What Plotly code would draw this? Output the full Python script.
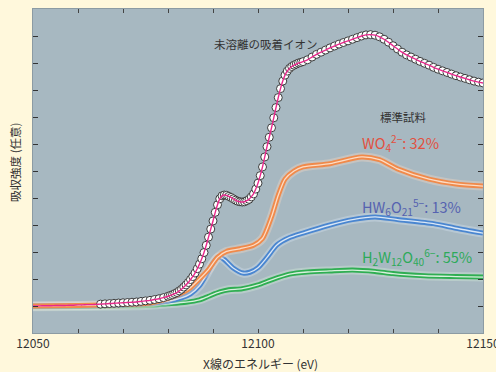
import plotly.graph_objects as go

# ---------------- data ----------------
sample_x = (
    list(range(12050, 12080))
    + [12080 + 0.5 * i for i in range(0, 61)]
    + list(range(12111, 12151))
)
sample_y = [
    # 12050 - 12079 (1 eV)
    0.00, 0.00, 0.01, 0.01, 0.01, 0.02, 0.02, 0.02, 0.03, 0.03,
    0.04, 0.04, 0.05, 0.05, 0.06, 0.07, 0.08, 0.09, 0.10, 0.11,
    0.12, 0.13, 0.14, 0.15, 0.17, 0.19, 0.21, 0.24, 0.27, 0.31,
    # 12080 - 12110 (0.5 eV)
    0.36, 0.39, 0.42, 0.46, 0.50, 0.56, 0.62, 0.70, 0.78, 0.87,
    0.98, 1.09, 1.22, 1.38, 1.55, 1.75, 1.98, 2.25, 2.55, 2.85,
    3.15, 3.47, 3.75, 3.97, 4.08, 4.11, 4.10, 4.06, 4.02, 3.97,
    3.92, 3.88, 3.86, 3.85, 3.86, 3.90, 3.95, 4.04, 4.15, 4.33,
    4.55, 4.83, 5.15, 5.52, 5.90, 6.25, 6.60, 6.97, 7.35, 7.72,
    8.05, 8.33, 8.55, 8.70, 8.80, 8.87, 8.92, 8.96, 9.00, 9.02,
    9.05,
    # 12111 - 12150 (1 eV)
    9.12, 9.22, 9.32, 9.40, 9.48, 9.56, 9.63, 9.70, 9.76,
    9.82, 9.88, 9.94, 10.00, 10.04, 10.05, 10.03, 9.97, 9.88, 9.77,
    9.64, 9.52, 9.40, 9.30, 9.22, 9.14, 9.06, 8.99, 8.92, 8.84,
    8.77, 8.71, 8.65, 8.59, 8.53, 8.48, 8.43, 8.38, 8.33, 8.29,
    8.26,
]
marker_start = 12065

wo4_x = [12050, 12060, 12070, 12076, 12080, 12083, 12085, 12087, 12089, 12091,
         12093, 12096, 12099, 12101, 12103, 12104.5, 12106, 12108, 12110, 12116,
         12123, 12127, 12131, 12138, 12144, 12150]
wo4_y = [0.00, 0.02, 0.06, 0.11, 0.28, 0.48, 0.68, 1.00, 1.35, 1.80,
         2.02, 2.12, 2.25, 2.50, 3.30, 4.10, 4.70, 5.00, 5.15, 5.27,
         5.52, 5.42, 5.08, 4.70, 4.52, 4.44]

hw6_x = [12050, 12060, 12070, 12076, 12080, 12083, 12085, 12087, 12088.5, 12090,
         12091.2, 12092.5, 12094.4, 12096.7, 12098.2, 12100, 12102, 12104.2, 12106.8,
         12110, 12116, 12121, 12126, 12131, 12139, 12144, 12150]
hw6_y = [0.00, 0.01, 0.04, 0.09, 0.18, 0.30, 0.45, 0.75, 1.15, 1.60,
         1.82, 1.72, 1.42, 1.22, 1.25, 1.42, 1.80, 2.26, 2.52,
         2.70, 3.00, 3.20, 3.30, 3.20, 3.05, 2.88, 2.70]

h2w12_x = [12050, 12060, 12070, 12076, 12080, 12084, 12087, 12089, 12091.5, 12093.5,
           12096.5, 12100, 12103, 12107, 12111, 12116, 12121, 12126, 12130, 12137,
           12144, 12150]
h2w12_y = [-0.03, -0.02, 0.00, 0.03, 0.08, 0.14, 0.23, 0.36, 0.52, 0.60,
           0.64, 0.78, 0.97, 1.18, 1.26, 1.30, 1.33, 1.28, 1.20, 1.12,
           1.09, 1.07]

x_ticks = [12050, 12100, 12150]
x_tick_labels = ["12050", "12100", "12150"]
y_ticks = list(range(0, 11))

sample_label = "未溶離の吸着イオン"
standard_label = "標準試料"
wo4_label = "WO<sub>4</sub><sup>2−</sup>: 32%"
hw6_label = "HW<sub>6</sub>O<sub>21</sub><sup>5−</sup>: 13%"
h2w12_label = "H<sub>2</sub>W<sub>12</sub>O<sub>40</sub><sup>6−</sup>: 55%"
x_title = "X線のエネルギー (eV)"
y_title = "吸収強度 (任意)"

FONT = "Noto Sans CJK JP, Noto Sans, sans-serif"

fig = go.Figure()


def tube(x, y, outer, inner):
    fig.add_trace(go.Scatter(x=x, y=y, mode="lines", hoverinfo="skip",
                             line=dict(color=inner, width=9, shape="spline", smoothing=0.7),
                             opacity=0.35, showlegend=False))
    fig.add_trace(go.Scatter(x=x, y=y, mode="lines", hoverinfo="skip",
                             line=dict(color=outer, width=5, shape="spline", smoothing=0.7),
                             showlegend=False))
    fig.add_trace(go.Scatter(x=x, y=y, mode="lines", hoverinfo="skip",
                             line=dict(color=inner, width=1.3, shape="spline", smoothing=0.7),
                             showlegend=False))


tube(h2w12_x, h2w12_y, "#2fae52", "#d8f1dd")
tube(hw6_x, hw6_y, "#4a86d0", "#d9e7f7")
tube(wo4_x, wo4_y, "#f08a4b", "#fddcc4")

mx = [x for x in sample_x if x >= marker_start]
my = [y for x, y in zip(sample_x, sample_y) if x >= marker_start]
fig.add_trace(go.Scatter(x=mx, y=my, mode="markers", hoverinfo="skip", showlegend=False,
                         marker=dict(symbol="circle", size=8, color="#ffffff",
                                     line=dict(color="#2a2a2a", width=0.9))))
fig.add_trace(go.Scatter(x=sample_x, y=sample_y, mode="lines", hoverinfo="skip", showlegend=False,
                         line=dict(color="#e8288c", width=1.4, shape="spline", smoothing=0.6)))

ann = [
    dict(x=12101.7, y=9.72, text=sample_label,
         font=dict(size=11.5, color="#333333", family=FONT),
         xanchor="center", yanchor="middle"),
    dict(x=12132.3, y=7.0, text=standard_label,
         font=dict(size=11.5, color="#333333", family=FONT),
         xanchor="center", yanchor="middle"),
    dict(x=12122.6, y=6.04, text=wo4_label,
         font=dict(size=14.5, color="#e2503f", family=FONT),
         xanchor="left", yanchor="middle"),
    dict(x=12122.6, y=3.67, text=hw6_label,
         font=dict(size=14.5, color="#5562b0", family=FONT),
         xanchor="left", yanchor="middle"),
    dict(x=12122.6, y=1.81, text=h2w12_label,
         font=dict(size=14.5, color="#2daa5a", family=FONT),
         xanchor="left", yanchor="middle"),
    dict(xref="paper", yref="paper", x=-0.04, y=0.525, text=y_title, textangle=-90,
         font=dict(size=11.5, color="#333333", family=FONT),
         xanchor="center", yanchor="middle"),
    dict(xref="paper", yref="paper", x=0.505, y=-0.093, text=x_title,
         font=dict(size=12, color="#333333", family=FONT),
         xanchor="center", yanchor="middle"),
]
for a in ann:
    a.setdefault("xref", "x")
    a.setdefault("yref", "y")
    a["showarrow"] = False

fig.update_layout(
    width=496, height=372,
    margin=dict(l=33, r=13, t=9, b=39, autoexpand=False),
    paper_bgcolor="#fff8dc",
    plot_bgcolor="#a7b8c1",
    font=dict(family=FONT, size=12, color="#333333"),
    annotations=ann,
    showlegend=False,
)
fig.update_xaxes(
    range=[12050, 12150], tickvals=x_ticks, ticktext=x_tick_labels,
    ticks="inside", ticklen=4, tickcolor="#444444", tickwidth=1,
    minor=dict(dtick=10, tick0=12050, ticks="inside", ticklen=4, tickcolor="#444444"),
    mirror="allticks", showline=True, linecolor="#8c9ba3", linewidth=1,
    showgrid=False, zeroline=False, ticklabeloverflow="allow", automargin=False,
    tickfont=dict(size=12, color="#333333"),
)
fig.update_yaxes(
    range=[-1, 11], tickvals=y_ticks, showticklabels=False,
    ticks="inside", ticklen=5, tickcolor="#333333", tickwidth=1,
    mirror="allticks", showline=True, linecolor="#8c9ba3", linewidth=1,
    showgrid=False, zeroline=False, automargin=False,
)

fig.write_html(
    "out.html",
    config={"displayModeBar": False},
    post_script="document.body.style.margin='0';document.body.style.background='#fff8dc';",
)
